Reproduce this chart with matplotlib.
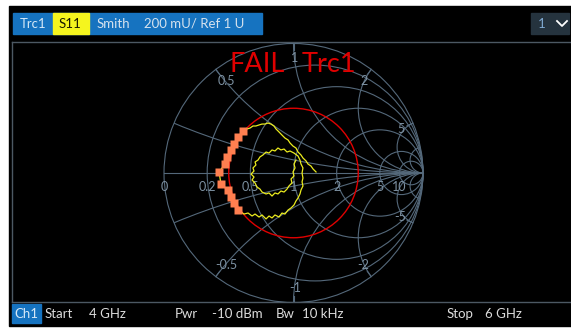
import numpy as np
import matplotlib.pyplot as plt
from matplotlib.patches import Circle, Rectangle

plt.rcParams['font.family'] = ['Lato', 'DejaVu Sans']

s11_re = [0.174, 0.151, 0.135, 0.112, 0.097, 0.073, 0.058, 0.035, 0.019, -0.004,
          -0.027, -0.042, -0.066, -0.089, -0.112, -0.135, -0.151, -0.174, -0.197, -0.220,
          -0.243, -0.266, -0.290, -0.313, -0.336, -0.359,
          -0.390, -0.429, -0.459, -0.483, -0.514, -0.529, -0.575, -0.560, -0.506, -0.483,
          -0.459, -0.429,
          -0.382, -0.351, -0.320, -0.297, -0.266, -0.243, -0.212, -0.189, -0.166, -0.143,
          -0.112, -0.089, -0.066, -0.042, -0.019, 0.004, 0.019, 0.035, 0.050, 0.058,
          0.073, 0.066, 0.073, 0.066, 0.073, 0.058, 0.050, 0.035,
          0.004, -0.027, -0.050, -0.073, -0.097, -0.120, -0.143, -0.166, -0.189, -0.212,
          -0.236, -0.259, -0.274, -0.297, -0.290, -0.313, -0.305, -0.328, -0.305, -0.320,
          -0.297, -0.282, -0.259, -0.243, -0.212, -0.189, -0.166, -0.143, -0.120, -0.097,
          -0.073, -0.050, -0.035, -0.012, -0.019, 0.004, -0.004, 0.012, 0.004, 0.019]
s11_im = [0.008, 0.031, 0.054, 0.069, 0.093, 0.116, 0.139, 0.162, 0.193, 0.208,
          0.232, 0.255, 0.270, 0.293, 0.317, 0.340, 0.363, 0.378, 0.386, 0.378,
          0.378, 0.371, 0.363, 0.363, 0.347, 0.340,
          0.324, 0.278, 0.224, 0.178, 0.124, 0.069, 0.008, -0.085, -0.131, -0.185,
          -0.232, -0.286,
          -0.317, -0.309, -0.332, -0.317, -0.340, -0.324, -0.355, -0.332, -0.347, -0.324,
          -0.340, -0.309, -0.317, -0.286, -0.270, -0.247, -0.216, -0.193, -0.162, -0.131,
          -0.100, -0.069, -0.039, 0.000, 0.039, 0.069, 0.100, 0.131,
          0.154, 0.170, 0.162, 0.185, 0.178, 0.193, 0.170, 0.178, 0.154, 0.162,
          0.139, 0.124, 0.100, 0.085, 0.062, 0.039, 0.015, -0.008, -0.031, -0.054,
          -0.077, -0.108, -0.124, -0.147, -0.162, -0.154, -0.178, -0.154, -0.162, -0.139,
          -0.147, -0.124, -0.100, -0.077, -0.046, -0.023, 0.008, 0.039, 0.069, 0.100]

limit_radius = 0.5
r_circles = [0.2, 0.5, 1, 2, 5, 10]
x_arcs = [0.2, 0.5, 1, 2, 5, 10]
r_labels = [0, 0.2, 0.5, 1, 2, 5, 10]
x_labels = [0.5, 1, 2, 5]

header = [("Trc1", 20, '#d5e8f7'), ("S11", 59, '#1a1a00'),
          ("Smith", 97, '#d5e2ee'), ("200 mU/ Ref 1 U", 144, '#d5e2ee')]
footer = [("Start", 45), ("4 GHz", 89), ("Pwr", 175), ("-10 dBm", 212),
          ("Bw", 276), ("10 kHz", 302), ("Stop", 447), ("6 GHz", 485)]

W, H = 571, 329
cx, cy, rad = 293.5, 173, 129.5      # chart centre / radius in pixels
fx0, fy0, fy1 = 12, 42, 302          # diagram frame

grid_c = '#54687a'
lab_c = '#7d91a2'

fig = plt.figure(figsize=(W / 100, H / 100), dpi=100)
fig.patch.set_facecolor('white')

bg = fig.add_axes([0, 0, 1, 1])
bg.set_xlim(0, W)
bg.set_ylim(H, 0)
bg.axis('off')
bg.add_patch(Rectangle((9, 6), W - 9, 320, color='black'))

# header bar
bg.add_patch(Rectangle((13, 13), 249, 21, color='#1673c0'))
bg.add_patch(Rectangle((53, 13), 36, 21, color='#f5f51e'))
for txt, x, c in header:
    bg.text(x, 24, txt, color=c, fontsize=9.5, ha='left', va='center')
bg.add_patch(Rectangle((531, 13), 38, 21, color='#25333e'))
bg.text(538, 24, "1", color='#7fa8d0', fontsize=9.5, ha='left', va='center')
bg.plot([557, 562, 567], [21, 26, 21], color='white', lw=1.3)

# frame
bg.plot([fx0, W], [fy0, fy0], color='#4c5863', lw=1)
bg.plot([fx0, fx0], [fy0, fy1], color='#4c5863', lw=1)
bg.plot([fx0, W], [fy1, fy1], color='#4c5863', lw=1)

# footer
bg.add_patch(Rectangle((12, 304), 29, 19, color='#1673c0'))
bg.text(14, 314, "Ch1", color='#d5e8f7', fontsize=9.5, ha='left', va='center')
for txt, x in footer:
    bg.text(x, 314, txt, color='#dcdcdc', fontsize=9.5, ha='left', va='center')

# Smith chart axes
sm = fig.add_axes([fx0 / W, (H - fy1) / H, (W - fx0) / W, (fy1 - fy0) / H])
sm.set_xlim((fx0 - cx) / rad, (W - cx) / rad)
sm.set_ylim((cy - fy1) / rad, (cy - fy0) / rad)
sm.axis('off')
sm.patch.set_alpha(0)

unit = Circle((0, 0), 1, fill=False, ec=grid_c, lw=0.8)
sm.add_patch(unit)
sm.plot([-1, 1], [0, 0], color=grid_c, lw=0.8)
for r in r_circles:
    sm.add_patch(Circle((r / (1 + r), 0), 1 / (1 + r), fill=False, ec=grid_c, lw=0.8))
for x in x_arcs:
    for s in (1, -1):
        arc = Circle((1, s / x), 1 / x, fill=False, ec=grid_c, lw=0.8)
        sm.add_patch(arc)
        arc.set_clip_path(unit)

for x in x_labels:
    for s in (1, -1):
        xv = s * x
        g = complex((xv ** 2 - 1) / (xv ** 2 + 1), 2 * xv / (xv ** 2 + 1))
        sm.plot([g.real, 0.95 * g.real], [g.imag, 0.95 * g.imag], color=grid_c, lw=0.8)
        sm.text(0.885 * g.real + 0.01, 0.885 * g.imag, f"{xv:g}", color=lab_c, fontsize=9,
                ha='center', va='center')
for r in r_labels:
    sm.text((r - 1) / (r + 1), -0.108, f"{r:g}", color=lab_c, fontsize=9,
            ha='center', va='center')

# limit circle
sm.add_patch(Circle((0, 0), limit_radius, fill=False, ec='#e00000', lw=1.0, zorder=3))

re = np.array(s11_re)
im = np.array(s11_im)
sm.plot(re, im, color='#ecec1e', lw=0.9, zorder=4)
bad = np.hypot(re, im) > limit_radius
sm.plot(re[bad], im[bad], 's', ms=6.2, color='#ff7f50', mec='none', zorder=5)

bg2 = fig.add_axes([0, 0, 1, 1])
bg2.set_xlim(0, W)
bg2.set_ylim(H, 0)
bg2.axis('off')
bg2.patch.set_alpha(0)
bg2.text(230, 64, "FAIL", color='#e00000', fontsize=19.5, ha='left', va='center')
bg2.text(302, 64, "Trc1", color='#e00000', fontsize=19.5, ha='left', va='center')

fig.savefig('out.png', dpi=100)
